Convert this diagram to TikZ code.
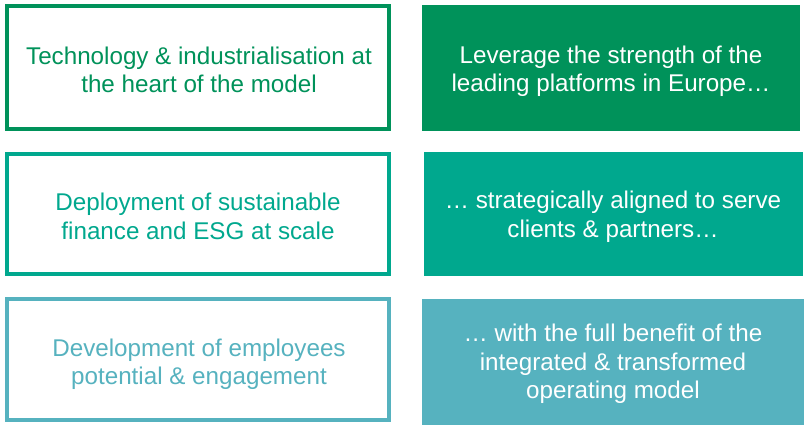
\documentclass[tikz,border=0pt]{standalone}
\usepackage{fontspec}
\setmainfont{Liberation Sans}
\definecolor{gA}{RGB}{0,146,90}
\definecolor{gB}{RGB}{0,168,142}
\definecolor{gC}{RGB}{86,178,191}
\begin{document}
\begin{tikzpicture}[x=1pt,y=-1pt,
  txt/.style={font=\fontsize{24.2}{28.5}\selectfont, align=center},
  leftbox/.style={draw=#1, line width=4pt, fill=white, text=#1},
  rightbox/.style={fill=#1, draw=none, text=white}]
\useasboundingbox (0,0) rectangle (804,425);
\fill[white] (0,0) rectangle (804,425);
% left boxes
\draw[leftbox=gA] (7,6.5) rectangle (389,129);
\draw[leftbox=gB] (7,154) rectangle (389,274);
\draw[leftbox=gC] (7,299) rectangle (389,420);
% right boxes
\fill[gA] (422,5) rectangle (800,131);
\fill[gB] (424,152) rectangle (803,276);
\fill[gC] (422,299) rectangle (804,425);
% texts
\node[txt, text=gA] (l1) at (199,70) {Technology \& industrialisation at\\the heart of the model};
\node[txt, text=gB] (l2) at (198,216.5) {Deployment of sustainable\\finance and ESG at scale};
\node[txt, text=gC] (l3) at (199,364) {Development of employees\\potential \& engagement};
\node[txt, text=white] (r1) at (611,71) {Leverage the strength of the\\leading platforms in Europe…};
\node[txt, text=white] (r2) at (613,216.5) {… strategically aligned to serve\\clients \& partners…};
\node[txt, text=white] (r3) at (613,364) {… with the full benefit of the\\integrated \& transformed\\operating model};
\end{tikzpicture}
\end{document}
